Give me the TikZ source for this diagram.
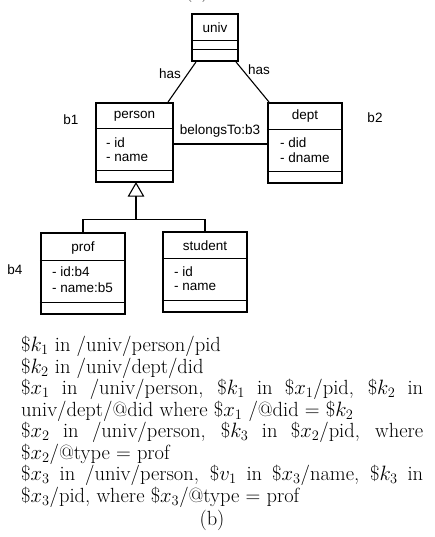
\documentclass[tikz,border=0pt]{standalone}
\usepackage{fontspec}
\newfontfamily\diag{Liberation Sans}
\usetikzlibrary{calc}
\begin{document}
\begin{tikzpicture}[x=1pt,y=-1pt,
  cls/.style={draw, line width=2.2pt, inner sep=0, fill=white},
  sep/.style={line width=0.9pt},
  dfont/.style={font=\diag\fontsize{13.5}{15}\selectfont, inner sep=0},
  ttl/.style={dfont},
  attr/.style={dfont, anchor=west},
  lbl/.style={dfont},
  conn/.style={line width=1.1pt},
  body/.style={anchor=north west, inner sep=0, text width=402pt, align=justify,
    font=\fontsize{20.5}{21.5}\selectfont}
]
\useasboundingbox (0,0) rectangle (435,537);

% partially visible caption at the top
\node[font=\fontsize{20}{22}\selectfont, anchor=base, inner sep=0] (capA) at (197,-2) {(a)};

% classes
\node[cls, minimum width=46pt, minimum height=47pt] (univ) at (215,37.5) {};
\node[cls, minimum width=77pt, minimum height=79pt] (person) at (134.5,142.5) {};
\node[cls, minimum width=74pt, minimum height=80pt] (dept) at (305,143) {};
\node[cls, minimum width=84pt, minimum height=81pt] (prof) at (83,273.5) {};
\node[cls, minimum width=84pt, minimum height=80pt] (student) at (205,272) {};

% compartments
\draw[sep] (univ.west |- 0,40) -- (univ.east |- 0,40);
\draw[sep] (univ.west |- 0,49) -- (univ.east |- 0,49);
\draw[sep] (person.west |- 0,128) -- (person.east |- 0,128);
\draw[sep] (person.west |- 0,170) -- (person.east |- 0,170);
\draw[sep] (dept.west |- 0,129) -- (dept.east |- 0,129);
\draw[sep] (dept.west |- 0,171) -- (dept.east |- 0,171);
\draw[sep] (prof.west |- 0,260) -- (prof.east |- 0,260);
\draw[sep] (prof.west |- 0,302) -- (prof.east |- 0,302);
\draw[sep] (student.west |- 0,258) -- (student.east |- 0,258);
\draw[sep] (student.west |- 0,300) -- (student.east |- 0,300);

% titles
\node[ttl] (univT) at (215,28) {univ};
\node[ttl] (personT) at (134.5,116) {person};
\node[ttl] (deptT) at (305,116) {dept};
\node[ttl] (profT) at (83,248) {prof};
\node[ttl] (studentT) at (205,246) {student};

% attributes
\node[attr] (pa1) at (106,143) {- id};
\node[attr] (pa2) at (106,158) {- name};
\node[attr] (da1) at (280,143) {- did};
\node[attr] (da2) at (280,158) {- dname};
\node[attr] (ra1) at (52,272) {- id:b4};
\node[attr] (ra2) at (52,288) {- name:b5};
\node[attr] (sa1) at (174,272) {- id};
\node[attr] (sa2) at (174,287) {- name};

% has associations
\draw[conn] ($(univ.south west)+(5,0)$) -- ($(person.north east)+(-6,0)$);
\draw[conn] ($(univ.south east)+(-3,0)$) -- ($(dept.north west)+(2,0)$);
\node[lbl] (has1) at (170,74) {has};
\node[lbl] (has2) at (259,70) {has};

% belongsTo
\draw[conn] (person.east |- 0,144) -- (dept.west |- 0,144);
\node[lbl] (bel) at (220,131) {belongsTo:b3};

% generalization
\coordinate (apex) at ($(person.south)+(1.5,0)$);
\coordinate (junc) at ($(apex)+(0,36)$);
\draw[conn, fill=white] (apex) -- ++(-7.5,13) -- ++(15,0) -- cycle;
\draw[conn] ($(apex)+(0,13)$) -- (junc);
\draw[conn] (prof.north) -- (prof.north |- junc) -- (student.north |- junc) -- (student.north);

% side labels
\node[lbl] (b1) at (71,120) {b1};
\node[lbl] (b2) at (375,118) {b2};
\node[lbl] (b4) at (15,270) {b4};

% queries
\node[body] (queries) at (21,336) {\parindent=0pt%
\$$k_1$ in /univ/person/pid\par
\$$k_2$ in /univ/dept/did\par
\$$x_1$ in /univ/person, \$$k_1$ in \$$x_1$/pid, \$$k_2$ in\linebreak
univ/dept/@did where \$$x_1$ /@did = \$$k_2$\par
\$$x_2$ in /univ/person, \$$k_3$ in \$$x_2$/pid, where\linebreak
\$$x_2$/@type = prof\par
\$$x_3$ in /univ/person, \$$v_1$ in \$$x_3$/name, \$$k_3$ in\linebreak
\$$x_3$/pid, where \$$x_3$/@type = prof\par};
\node[font=\fontsize{20.5}{22}\selectfont, anchor=base, inner sep=0] (capB) at (212,525) {(b)};
\end{tikzpicture}
\end{document}
